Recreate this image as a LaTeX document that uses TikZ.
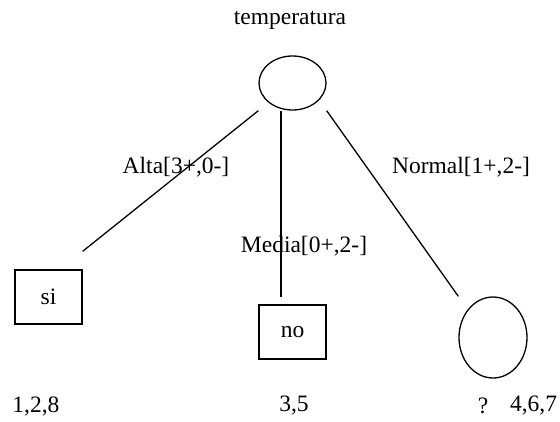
\documentclass[tikz,border=0pt]{standalone}
\usepackage{fontspec}
\setmainfont{Liberation Serif}
\usetikzlibrary{shapes.geometric,calc}
\begin{document}
\begin{tikzpicture}[x=1pt,y=-1pt,
  every node/.style={font=\fontsize{23.5}{28}\selectfont},
  testnode/.style={draw,line width=1.3pt,ellipse,inner sep=0pt},
  leafbox/.style={draw,line width=1.4pt,rectangle,inner sep=0pt,minimum width=67pt,minimum height=54pt},
  branch/.style={line width=1.3pt},
  lbl/.style={inner sep=0pt}]
\useasboundingbox (0,0) rectangle (560,421);
% root test and its title
\node[lbl] (title) at (290,20) {temperatura};
\node[testnode,minimum width=67pt,minimum height=54pt] (root) at (292.5,83) {};
% children
\node[leafbox] (si) at (48.5,297) {si};
\node[leafbox] (no) at (292.5,332) {no};
\node[testnode,minimum width=68pt,minimum height=81pt] (sub) at (493,337.5) {};
% branches (they stop short of the leaf boxes)
\draw[branch] (root.south -| root.west) -- ([yshift=18pt]si.north east);
\draw[branch] ([xshift=-11.5pt]root.south) -- ([xshift=-11.5pt,yshift=7pt]no.north);
\draw[branch] (root.south -| root.east) -- (sub.north -| sub.west);
% branch labels
\node[lbl] (alta) at (176,167) {Alta[3+,0-]};
\node[lbl] (media) at (304,246) {Media[0+,2-]};
\node[lbl] (normal) at (461,167) {Normal[1+,2-]};
% example sets
\node[lbl] (e1) at (36,406) {1,2,8};
\node[lbl] (e2) at (294,406) {3,5};
\node[lbl] (q) at (483,406) {?};
\node[lbl] (e3) at (533.5,406) {4,6,7};
\end{tikzpicture}
\end{document}
